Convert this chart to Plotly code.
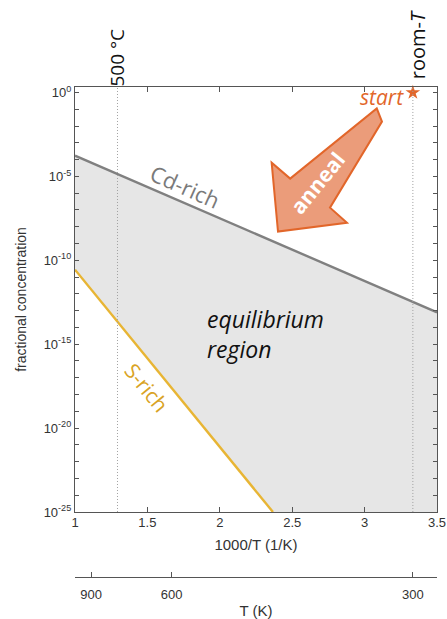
import plotly.graph_objects as go

# ---- data -------------------------------------------------------------
# Boundary lines of the equilibrium window (x = 1000/T in 1/K)
cd_rich_x = [1.0, 3.5]
cd_rich_y = [1.74e-4, 7.9e-14]
s_rich_x = [1.0, 2.367]
s_rich_y = [2.75e-11, 1e-25]

# Reference temperatures (1000/T)
t_500C = 1000 / 773.15
t_room = 1000 / 300.0

# Start point of the anneal
start_x = [t_room]
start_y = [1.0]

# Secondary temperature axis
temp_ticks_K = [900, 600, 300]

# Axis settings
x_range = [1.0, 3.5]
x_ticks = [1, 1.5, 2, 2.5, 3, 3.5]
x_ticktext = ["1", "1.5", "2", "2.5", "3", "3.5"]
y_log_range = [-25, 0.33]
y_decades = list(range(0, -26, -1))

# ---- figure -----------------------------------------------------------
y_dom = [0.1327, 1.0]
ORANGE = "#e2662a"
GRAY_LINE = "#808080"
GOLD = "#e8b534"
FILL = "#e6e6e6"

fig = go.Figure()

# equilibrium region: between Cd-rich line and S-rich line (floored at axis bottom)
ymin = 10 ** y_log_range[0]
poly_x = cd_rich_x + [cd_rich_x[-1], s_rich_x[-1]] + s_rich_x[::-1]
poly_y = cd_rich_y + [ymin, ymin] + s_rich_y[::-1]
fig.add_trace(go.Scatter(x=poly_x, y=poly_y, fill="toself", fillcolor=FILL,
                         line=dict(width=0), mode="lines", hoverinfo="skip",
                         showlegend=False))

fig.add_trace(go.Scatter(x=cd_rich_x, y=cd_rich_y, mode="lines",
                         line=dict(color=GRAY_LINE, width=2.4), showlegend=False))
fig.add_trace(go.Scatter(x=s_rich_x, y=s_rich_y, mode="lines",
                         line=dict(color=GOLD, width=2.4), showlegend=False))

# vertical guide lines
for xv in (t_500C, t_room):
    fig.add_shape(type="line", xref="x", yref="y domain", x0=xv, x1=xv, y0=0, y1=1,
                  line=dict(color="#a0a0a0", width=1, dash="1px,2px"), layer="above")

fig.add_trace(go.Scatter(x=start_x, y=start_y, mode="markers",
                         marker=dict(symbol="star", size=11, color=ORANGE),
                         showlegend=False, cliponaxis=False))

# dummy trace so the secondary axis is drawn
fig.add_trace(go.Scatter(x=x_range, y=[None, None], xaxis="x2", yaxis="y",
                         showlegend=False, hoverinfo="skip"))


def to_paper(x, d):
    px = (x - x_range[0]) / (x_range[1] - x_range[0])
    py = y_dom[0] + (d - y_log_range[0]) / (y_log_range[1] - y_log_range[0]) * (y_dom[1] - y_dom[0])
    return px, py


# anneal arrow outline (x = 1000/T, d = log10 concentration)
arrow_pts = [(3.084, -0.95), (3.12, -1.73), (2.761, -6.86), (2.878, -7.76),
             (2.402, -8.29), (2.358, -4.18), (2.486, -5.13)]
path = ""
for i, (ax_, ad) in enumerate(arrow_pts):
    px, py = to_paper(ax_, ad)
    path += ("M" if i == 0 else "L") + f"{px:.4f},{py:.4f} "
path += "Z"
fig.add_shape(type="path", xref="paper", yref="paper", path=path,
              fillcolor="#eb9c7a", line=dict(color=ORANGE, width=2), layer="above")

TXT = "Open Sans"
ann = [
    dict(x=1.760, y=-5.55, text="Cd-rich", textangle=24, font=dict(size=22, color="#7a7a7a", family=TXT)),
    dict(x=1.497, y=-17.61, text="S-rich", textangle=51, font=dict(size=21, color="#d9a324", family=TXT)),
    dict(x=1.90, y=-14.39, text="<i>equilibrium<br>region</i>", xanchor="left", align="left",
         font=dict(size=23, color="#111111", family=TXT)),
    dict(x=2.675, y=-5.42, text="<b>anneal</b>", textangle=-51, font=dict(size=21, color="white", family=TXT)),
    dict(x=3.120, y=-0.27, text="<i>start</i>", font=dict(size=21, color=ORANGE, family=TXT)),
]
for a in ann:
    a.update(xref="x", yref="y", showarrow=False)
# labels above the plot box
ann += [
    dict(x=t_500C, y=1.061, xref="x", yref="paper", text="500 °C", textangle=-90, showarrow=False,
         xanchor="center", yanchor="middle", font=dict(size=19, color="#111111", family=TXT)),
    dict(x=t_room + 0.03, y=1.0857, xref="x", yref="paper", text="room-<i>T</i>", textangle=-90,
         showarrow=False, xanchor="center", yanchor="middle",
         font=dict(size=20, color="#111111", family=TXT)),
]
fig.update_layout(annotations=ann)

tick_font = dict(family="Liberation Sans", size=13, color="#333333")
title_font = dict(family="Liberation Sans", size=15, color="#333333")
fig.update_layout(
    width=447, height=619,
    margin=dict(l=75, r=10, t=87, b=42, autoexpand=False),
    paper_bgcolor="white", plot_bgcolor="white",
    showlegend=False,
    xaxis=dict(range=x_range, tickvals=x_ticks, ticktext=x_ticktext,
               ticks="inside", ticklen=5, tickcolor="#555", mirror="ticks",
               showline=True, linecolor="#555", linewidth=1.3, showgrid=False,
               zeroline=False, tickfont=tick_font, ticklabelstandoff=-2,
               title=dict(text="1000/T (1/K)", font=title_font, standoff=10),
               anchor="y", automargin=False),
    xaxis2=dict(range=x_range, overlaying="x", anchor="free", position=0, side="bottom",
                tickvals=[1000 / t for t in temp_ticks_K],
                ticktext=[str(t) for t in temp_ticks_K],
                ticks="inside", ticklen=5, tickcolor="#555",
                showline=True, linecolor="#555", linewidth=1.3, showgrid=False,
                zeroline=False, tickfont=tick_font, ticklabelstandoff=5,
                title=dict(text="T (K)", font=title_font, standoff=5), automargin=False),
    yaxis=dict(type="log", range=y_log_range, domain=y_dom,
               tickvals=[10.0 ** d for d in y_decades],
               ticktext=[f"10<sup>{d}</sup>" if d % 5 == 0 else "" for d in y_decades],
               ticks="inside", ticklen=4, tickcolor="#555", mirror="ticks",
               showline=True, linecolor="#555", linewidth=1.3, showgrid=False,
               zeroline=False, tickfont=tick_font, automargin=False,
               title=dict(text="fractional concentration",
                          font=dict(family="Liberation Sans", size=14, color="#333333"),
                          standoff=13)),
)

fig.write_html("out.html")
